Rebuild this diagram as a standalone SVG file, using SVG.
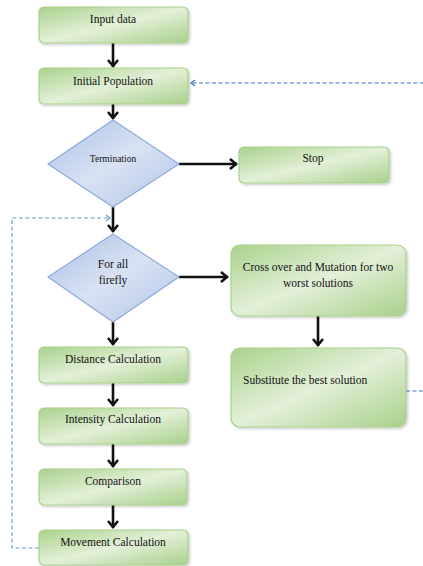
<svg xmlns="http://www.w3.org/2000/svg" width="423" height="566" viewBox="0 0 423 566">
<defs>
<linearGradient id="gg" x1="0" y1="0" x2="1" y2="1">
<stop offset="0" stop-color="#a9d28c"/>
<stop offset="0.5" stop-color="#e3f0d8"/>
<stop offset="1" stop-color="#a8d08b"/>
</linearGradient>
<linearGradient id="bg" x1="0" y1="0" x2="1" y2="1">
<stop offset="0" stop-color="#a9bfe6"/>
<stop offset="0.5" stop-color="#d9e2f3"/>
<stop offset="1" stop-color="#b0c4e8"/>
</linearGradient>
<filter id="sh" x="-10%" y="-10%" width="130%" height="130%">
<feDropShadow dx="1.5" dy="1.5" stdDeviation="1" flood-color="#000" flood-opacity="0.2"/>
</filter>
<marker id="ah" markerUnits="userSpaceOnUse" markerWidth="14" markerHeight="14" refX="8" refY="6" orient="auto">
<path d="M1,1 L7,6 L1,11" fill="none" stroke="#111" stroke-width="2.6"/>
</marker>
<marker id="dh" markerUnits="userSpaceOnUse" markerWidth="10" markerHeight="10" refX="5" refY="4" orient="auto">
<path d="M1,1 L5,4 L1,7" fill="none" stroke-width="1.2"/>
</marker>
<marker id="dh1" markerUnits="userSpaceOnUse" markerWidth="10" markerHeight="10" refX="5" refY="4" orient="auto">
<path d="M1,1 L5,4 L1,7" fill="none" stroke="#5b9bd5" stroke-width="1.2"/>
</marker>
<marker id="dh2" markerUnits="userSpaceOnUse" markerWidth="10" markerHeight="10" refX="5" refY="4" orient="auto">
<path d="M1,1 L5,4 L1,7" fill="none" stroke="#4472c4" stroke-width="1.2"/>
</marker>
</defs>
<style>
.box{fill:url(#gg);stroke:#a9d18e;stroke-width:1.2;filter:url(#sh)}
.dia{fill:url(#bg);stroke:#8eaadb;stroke-width:1.2}
.t{font-family:"Liberation Serif","Times New Roman",serif;font-size:11.5px;fill:#111;text-anchor:middle}
.ts{font-size:9.5px}
.tl{text-anchor:start}
.a{stroke:#111;stroke-width:2.6;fill:none;marker-end:url(#ah)}
.d1{stroke:#5b9bd5;stroke-width:1.1;fill:none;stroke-dasharray:4 2.5}
.d2{stroke:#4472c4;stroke-width:1.1;fill:none;stroke-dasharray:4 2.5}
</style>

<g id="connectors">
<path class="a" d="M113,43 L113,67"/>
<path class="a" d="M113,104 L113,119"/>
<path class="a" d="M179,164 L237,164"/>
<path class="a" d="M113,207 L113,232"/>
<path class="a" d="M179,277 L228,277"/>
<path class="a" d="M318,316 L318,346"/>
<path class="a" d="M113,322 L113,345"/>
<path class="a" d="M113,383 L113,406"/>
<path class="a" d="M113,444 L113,467"/>
<path class="a" d="M113,505 L113,528"/>
<path class="d1" d="M39,548 L12,548 L12,218 L110,218" marker-end="url(#dh1)"/>
<path class="d2" d="M406,391 L430,391 L430,83 L191,83" marker-end="url(#dh2)"/>
</g>

<g id="input"><rect class="box" x="39" y="7" width="149" height="36" rx="5"/><text class="t" x="113" y="23">Input data</text></g>
<g id="initial"><rect class="box" x="39" y="68" width="149" height="36" rx="5"/><text class="t" x="113" y="85">Initial Population</text></g>
<g id="termination"><polygon class="dia" points="113,120 179,164 113,207 48,164"/><text class="t ts" x="113" y="162">Termination</text></g>
<g id="stop"><rect class="box" x="239" y="147" width="150" height="36" rx="5"/><text class="t" x="313" y="162">Stop</text></g>
<g id="forall"><polygon class="dia" points="113,234 179,277 113,322 48,277"/><text class="t" x="113" y="268">For all</text><text class="t" x="113" y="284">firefly</text></g>
<g id="crossover"><rect class="box" x="231" y="245" width="175" height="71" rx="9"/><text class="t" x="318" y="271">Cross over and Mutation for two</text><text class="t" x="318" y="287">worst solutions</text></g>
<g id="substitute"><rect class="box" x="231" y="348" width="175" height="79" rx="9"/><text class="t tl" x="243" y="384">Substitute the best solution</text></g>
<g id="distance"><rect class="box" x="39" y="347" width="149" height="36" rx="5"/><text class="t" x="113" y="363">Distance Calculation</text></g>
<g id="intensity"><rect class="box" x="39" y="408" width="149" height="36" rx="5"/><text class="t" x="113" y="423">Intensity Calculation</text></g>
<g id="comparison"><rect class="box" x="39" y="469" width="148" height="36" rx="5"/><text class="t" x="113" y="485">Comparison</text></g>
<g id="movement"><rect class="box" x="39" y="530" width="149" height="35" rx="5"/><text class="t" x="113" y="546">Movement Calculation</text></g>
</svg>
